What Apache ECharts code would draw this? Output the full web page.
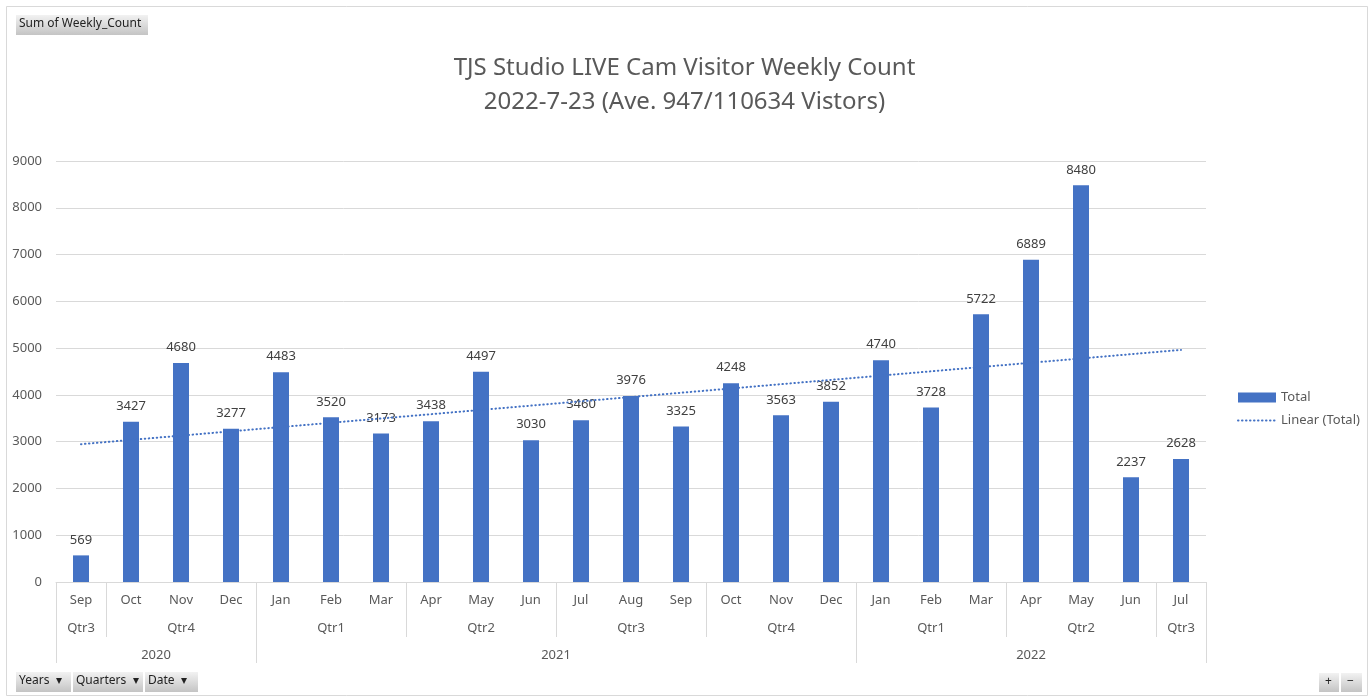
<!DOCTYPE html>
<html>
<head>
    <meta charset="utf-8">
    <script src="https://cdn.jsdelivr.net/npm/echarts@6/dist/echarts.min.js"></script>
    <style>
        html, body { margin: 0; padding: 0; background: #fff; }
    </style>
</head>
<body>
<div id="main" style="width: 1369px;height:698px;"></div>

<script>
    // months along the axis, Sep 2020 .. Jul 2022
    var months = ['Sep', 'Oct', 'Nov', 'Dec', 'Jan', 'Feb', 'Mar', 'Apr', 'May', 'Jun', 'Jul', 'Aug',
        'Sep', 'Oct', 'Nov', 'Dec', 'Jan', 'Feb', 'Mar', 'Apr', 'May', 'Jun', 'Jul'];
    var totals = [569, 3427, 4680, 3277, 4483, 3520, 3173, 3438, 4497, 3030, 3460, 3976,
        3325, 4248, 3563, 3852, 4740, 3728, 5722, 6889, 8480, 2237, 2628];
    // trendline value at first and last month
    var trendEnds = [2946, 4962];

    // group rows under the months: label + how many months it spans
    var quarters = [['Qtr3', 1], ['Qtr4', 3], ['Qtr1', 3], ['Qtr2', 3], ['Qtr3', 3],
        ['Qtr4', 3], ['Qtr1', 3], ['Qtr2', 3], ['Qtr3', 1]];
    var years = [['2020', 4], ['2021', 12], ['2022', 7]];

    var yTicks = [0, 1000, 2000, 3000, 4000, 5000, 6000, 7000, 8000, 9000];

    // build half-month slots so group labels can sit on their centres
    var nSlots = months.length * 2 + 1;
    function groupSlots(groups) {
        var names = [], bounds = [0], pos = 0;
        for (var i = 0; i < nSlots; i++) names.push('');
        groups.forEach(function (g) {
            names[pos + g[1]] = g[0];
            pos += g[1] * 2;
            bounds.push(pos);
        });
        return {names: names, bounds: bounds};
    }
    var qRow = groupSlots(quarters);
    var yRow = groupSlots(years);

    var trend = totals.map(function () { return null; });
    trend[0] = trendEnds[0];
    trend[trend.length - 1] = trendEnds[1];

    var font = 'Noto Sans';
    var gray = '#595959';
    var lineCol = '#d9d9d9';
    var blue = '#4472C4';

    function slotAxis(row, margin, tickLen) {
        return {
            type: 'category',
            gridIndex: 0,
            position: 'bottom',
            boundaryGap: false,
            data: row.names,
            axisLine: {show: false},
            axisTick: {
                show: true,
                length: tickLen,
                interval: function (idx) { return row.bounds.indexOf(idx) >= 0; },
                lineStyle: {color: lineCol}
            },
            axisLabel: {
                interval: function (idx, v) { return v !== ''; },
                margin: margin,
                color: gray,
                fontFamily: font,
                fontSize: 13
            },
            splitLine: {show: false}
        };
    }

    function button(x, y, w, h, label) {
        return {
            type: 'group',
            left: x, top: y,
            children: [
                {
                    type: 'rect',
                    shape: {width: w, height: h},
                    style: {
                        fill: new echarts.graphic.LinearGradient(0, 0, 0, 1, [
                            {offset: 0, color: '#f2f2f2'},
                            {offset: 1, color: '#c4c4c4'}
                        ])
                    }
                },
                {
                    type: 'text',
                    left: 3, top: 3,
                    style: {text: label, fill: '#222', font: '12px "Noto Sans"'}
                }
            ]
        };
    }

    var myChart = echarts.init(document.getElementById('main'));

    var option = {
        backgroundColor: '#fff',
        animation: false,
        title: {
            text: 'TJS Studio LIVE Cam Visitor Weekly Count\n2022-7-23 (Ave. 947/110634 Vistors)',
            left: 'center',
            top: 46,
            textStyle: {
                color: gray,
                fontFamily: font,
                fontWeight: 'normal',
                fontSize: 24,
                lineHeight: 34
            }
        },
        legend: {
            orient: 'vertical',
            left: 1232,
            top: 386,
            itemWidth: 38,
            itemHeight: 10,
            itemGap: 10,
            textStyle: {color: gray, fontFamily: font, fontSize: 13},
            data: [
                {name: 'Total', icon: 'rect'},
                {name: 'Linear (Total)', itemStyle: {opacity: 0}}
            ]
        },
        grid: {left: 56, right: 163, top: 161, bottom: 116},
        xAxis: [
            {
                type: 'category',
                data: months,
                axisLine: {lineStyle: {color: lineCol}},
                axisTick: {show: false},
                axisLabel: {interval: 0, margin: 12, color: gray, fontFamily: font, fontSize: 13}
            },
            slotAxis(qRow, 40, 55),
            slotAxis(yRow, 67, 81)
        ],
        yAxis: {
            type: 'value',
            min: yTicks[0],
            max: yTicks[yTicks.length - 1],
            interval: 1000,
            axisLine: {show: false},
            axisTick: {show: false},
            axisLabel: {
                margin: 14, color: gray, fontFamily: font, fontSize: 13,
                formatter: function (v) { return String(v); }
            },
            splitLine: {lineStyle: {color: lineCol}}
        },
        series: [
            {
                name: 'Total',
                type: 'bar',
                data: totals,
                barWidth: 16,
                itemStyle: {color: blue},
                label: {
                    show: true,
                    position: 'top',
                    distance: 9,
                    color: '#404040',
                    fontFamily: font,
                    fontSize: 13
                }
            },
            {
                name: 'Linear (Total)',
                type: 'line',
                data: trend,
                connectNulls: true,
                symbol: 'none',
                itemStyle: {color: blue},
                lineStyle: {color: blue, width: 2, type: [0.5, 3.5], cap: 'round'},
                z: 3
            }
        ],
        graphic: [
            {
                type: 'rect',
                left: 4, top: 4,
                shape: {width: 1361, height: 689},
                style: {fill: 'none', stroke: lineCol, lineWidth: 1},
                silent: true
            },
            button(16, 15, 132, 20, 'Sum of Weekly_Count'),
            button(16, 672, 55, 20, 'Years  \u25BE'),
            button(73, 672, 70, 20, 'Quarters  \u25BE'),
            button(145, 672, 53, 20, 'Date  \u25BE'),
            button(1319, 673, 20, 19, ' +'),
            button(1341, 673, 21, 19, ' \u2212')
        ]
    };
    myChart.setOption(option);
</script>
</body>
</html>
